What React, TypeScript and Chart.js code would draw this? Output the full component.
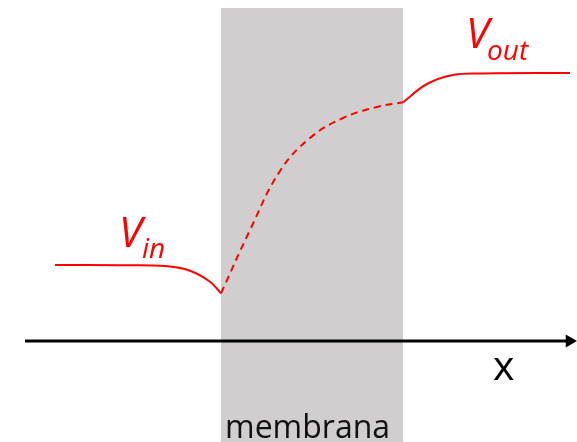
import React, { useEffect, useRef } from "react";
import { Chart, registerables } from "chart.js";

Chart.register(...registerables);

// Position along x (membrane spans 0..182), potential measured from the x axis
const LEFT_X = [-166, -101, -56, -31, -11, 0];
const LEFT_V = [76, 75.8, 75, 70.3, 59.3, 47.7];
const MEM_X = [0, 29, 59, 89, 122, 156, 182];
const MEM_V = [47.7, 111, 170, 203, 223, 234, 238.7];
const RIGHT_X = [182, 206, 232, 262, 349];
const RIGHT_V = [238.7, 257, 266, 267.5, 268];
const MEMBRANE_X = [0, 182];
const MEMBRANE_TOP = [333, 333];
const AXIS_X = [-196, 347];
const AXIS_V = [0, 0];
const ARROW_X = [348.5];
const ARROW_V = [0];
const LABEL_VIN = ["V", "in"];
const LABEL_VOUT = ["V", "out"];
const LABEL_AXIS = "x";
const LABEL_MEMBRANE = "membrana";

const pts = (xs: number[], ys: number[]) => xs.map((x, i) => ({ x, y: ys[i] }));

const textPlugin = {
  id: "texts",
  afterDatasetsDraw(chart: any) {
    const ctx = chart.ctx as CanvasRenderingContext2D;
    ctx.save();
    ctx.textBaseline = "alphabetic";
    ctx.textAlign = "left";
    ctx.fillStyle = "#ff0000";
    ctx.font = "italic 42px 'Open Sans'";
    ctx.fillText(LABEL_VIN[0], 119, 247);
    ctx.font = "italic 28px 'Open Sans'";
    ctx.fillText(LABEL_VIN[1], 142, 258);
    ctx.font = "italic 42px 'Open Sans'";
    ctx.fillText(LABEL_VOUT[0], 466, 48);
    ctx.font = "italic 28px 'Open Sans'";
    ctx.fillText(LABEL_VOUT[1], 487, 60);
    ctx.fillStyle = "#000000";
    ctx.font = "41px 'Open Sans'";
    ctx.fillText(LABEL_AXIS, 493, 380);
    ctx.fillStyle = "#111111";
    ctx.font = "32px 'Open Sans'";
    ctx.fillText(LABEL_MEMBRANE, 225, 438);
    ctx.restore();
  },
};

export default function App() {
  const ref = useRef<HTMLCanvasElement | null>(null);
  useEffect(() => {
    if (!ref.current) return;
    const red = "#ff0000";
    const chart = new Chart(ref.current, {
      type: "line",
      data: {
        datasets: [
          {
            data: pts(LEFT_X, LEFT_V),
            borderColor: red,
            borderWidth: 2,
            pointRadius: 0,
            tension: 0.4,
            fill: false,
            order: 0,
          },
          {
            data: pts(MEM_X, MEM_V),
            borderColor: red,
            borderWidth: 2,
            borderDash: [7, 5],
            pointRadius: 0,
            tension: 0.4,
            fill: false,
            order: 0,
          },
          {
            data: pts(RIGHT_X, RIGHT_V),
            borderColor: red,
            borderWidth: 2,
            pointRadius: 0,
            tension: 0.4,
            fill: false,
            order: 0,
          },
          {
            data: pts(AXIS_X, AXIS_V),
            borderColor: "#000000",
            borderWidth: 3,
            pointRadius: 0,
            fill: false,
            order: 1,
          },
          {
            data: pts(ARROW_X, ARROW_V),
            showLine: false,
            pointStyle: "triangle",
            pointRotation: 90,
            pointRadius: 7.5,
            pointBorderWidth: 0,
            pointBackgroundColor: "#000000",
            pointBorderColor: "#000000",
            order: 1,
            clip: false,
          } as any,
          {
            data: pts(MEMBRANE_X, MEMBRANE_TOP),
            borderWidth: 0,
            borderColor: "rgba(0,0,0,0)",
            backgroundColor: "#d0cecf",
            pointRadius: 0,
            fill: "start",
            tension: 0,
            order: 10,
          },
        ],
      },
      options: {
        animation: false,
        responsive: false,
        maintainAspectRatio: false,
        layout: { padding: 0, autoPadding: false },
        plugins: { legend: { display: false }, tooltip: { enabled: false } },
        events: [],
        scales: {
          x: { type: "linear", min: -221, max: 356, display: false },
          y: { type: "linear", min: -101, max: 341, display: false },
        },
      },
      plugins: [textPlugin],
    });
    return () => chart.destroy();
  }, []);
  return (
    <div style={{ position: "fixed", left: 0, top: 0, width: 577, height: 442, background: "#fff" }}>
      <canvas ref={ref} width={577} height={442} style={{ display: "block" }} />
    </div>
  );
}
